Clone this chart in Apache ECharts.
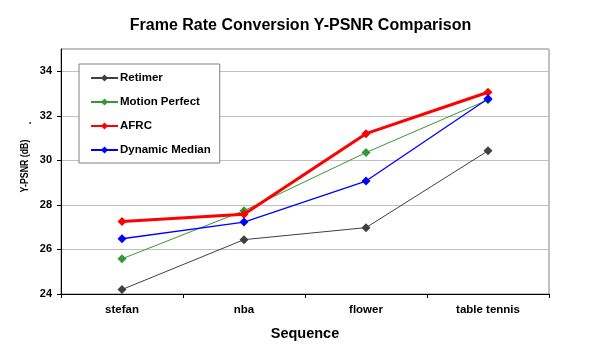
<!DOCTYPE html>
<html>
<head>
<meta charset="utf-8">
<script src="https://cdn.jsdelivr.net/npm/echarts@6/dist/echarts.min.js"></script>
<style>
html,body{margin:0;padding:0;background:#fff;}
#chart{width:601px;height:356px;}
</style>
</head>
<body>
<div id="chart"></div>
<script>
var titleText = 'Frame Rate Conversion Y-PSNR Comparison';
var categories = ['stefan', 'nba', 'flower', 'table tennis'];
var seriesNames = ['Retimer', 'Motion Perfect', 'AFRC', 'Dynamic Median'];
var retimer = [24.2, 26.44, 26.98, 30.43];
var motionPerfect = [25.58, 27.74, 30.35, 32.72];
var afrc = [27.25, 27.58, 31.2, 33.06];
var dynamicMedian = [26.48, 27.23, 29.07, 32.77];
var yTicks = [24, 26, 28, 30, 32, 34];
var xTitle = 'Sequence';
var yTitle = 'Y-PSNR (dB)';

var FONT = '"Liberation Sans", Arial, sans-serif';
var chart = echarts.init(document.getElementById('chart'), null, {renderer: 'canvas'});

function mkSeries(name, data, color, width, z) {
  return {
    name: name,
    type: 'line',
    data: data,
    symbol: 'diamond',
    symbolSize: 9,
    showSymbol: true,
    z: z,
    lineStyle: {color: color, width: width},
    itemStyle: {color: color},
    emphasis: {disabled: true},
    animation: false
  };
}

var option = {
  animation: false,
  backgroundColor: '#ffffff',
  title: {
    text: titleText,
    left: 'center',
    top: 13,
    textStyle: {fontFamily: FONT, fontSize: 16, fontWeight: 'bold', color: '#000'}
  },
  grid: {
    left: 61, right: 52, top: 49, bottom: 62,
    show: true, borderColor: '#808080', borderWidth: 1, backgroundColor: '#ffffff'
  },
  legend: {
    orient: 'vertical',
    left: 79, top: 64,
    data: seriesNames,
    backgroundColor: '#ffffff',
    borderColor: '#808080',
    borderWidth: 1,
    padding: [8, 9, 7, 11],
    itemGap: 12,
    itemWidth: 27,
    itemHeight: 9,
    textStyle: {fontFamily: FONT, fontSize: 11.5, fontWeight: 'bold', color: '#000', padding: [0, 0, 0, -3]}
  },
  xAxis: {
    type: 'category',
    data: categories,
    boundaryGap: true,
    axisLine: {lineStyle: {color: '#000', width: 1}},
    axisTick: {show: true, length: 4, alignWithLabel: false, lineStyle: {color: '#000'}},
    axisLabel: {fontFamily: FONT, fontSize: 11.5, fontWeight: 'bold', color: '#000', margin: 10},
    splitLine: {show: false},
    name: xTitle,
    nameLocation: 'middle',
    nameGap: 32,
    nameTextStyle: {fontFamily: FONT, fontSize: 14.5, fontWeight: 'bold', color: '#000'}
  },
  yAxis: {
    type: 'value',
    min: 24, max: 35, interval: 2,
    axisLine: {show: true, lineStyle: {color: '#000', width: 1}},
    axisTick: {show: true, length: 4, lineStyle: {color: '#000'}},
    axisLabel: {fontFamily: FONT, fontSize: 11, fontWeight: 'bold', color: '#000', margin: 9, showMaxLabel: false,
      formatter: function (v) { return yTicks.indexOf(v) >= 0 ? String(v) : ''; }},
    splitLine: {show: true, lineStyle: {color: '#c0c0c0', width: 1}}
  },
  graphic: [
    {
      type: 'text', x: 25, y: 166, rotation: Math.PI / 2, scaleX: 0.8,
      style: {text: yTitle, fontFamily: FONT, fontSize: 11, fontWeight: 'bold', fill: '#000', align: 'center', verticalAlign: 'middle'}
    },
    {
      type: 'text', x: 28, y: 123, rotation: Math.PI / 2,
      style: {text: '.', fontFamily: FONT, fontSize: 11, fontWeight: 'bold', fill: '#000', align: 'center', verticalAlign: 'middle'}
    }
  ],
  series: [
    mkSeries(seriesNames[0], retimer, '#404040', 1, 2),
    mkSeries(seriesNames[1], motionPerfect, '#339933', 1, 3),
    mkSeries(seriesNames[2], afrc, '#ff0000', 3, 4),
    mkSeries(seriesNames[3], dynamicMedian, '#0000ff', 1.3, 5)
  ]
};
chart.setOption(option);
</script>
</body>
</html>
